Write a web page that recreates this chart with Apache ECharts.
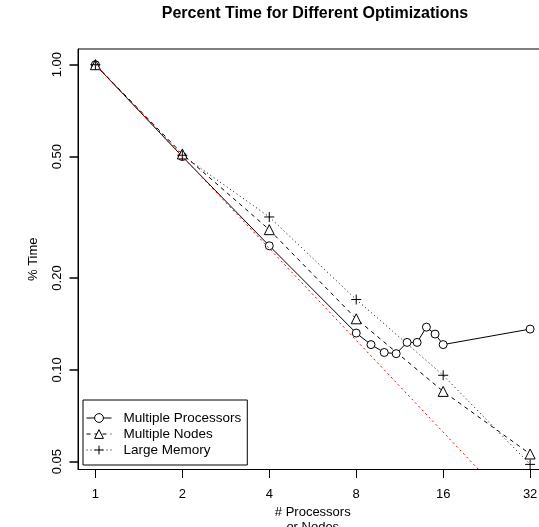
<!DOCTYPE html>
<html>
<head>
<meta charset="utf-8">
<script src="https://cdn.jsdelivr.net/npm/echarts@6/dist/echarts.min.js"></script>
<style>
html,body{margin:0;padding:0;background:#fff;}
#chart{width:539px;height:527px;}
</style>
</head>
<body>
<div id="chart"></div>
<script>
// values (x = processors/nodes, y = fraction of time)
var procN    = [1, 2, 4, 8, 9, 10, 11, 12, 13, 14, 15, 16, 32];
var procTime = [1.00, 0.50, 0.255, 0.132, 0.121, 0.114, 0.113, 0.123, 0.123, 0.138, 0.131, 0.121, 0.136];
var nodeN    = [1, 2, 4, 8, 16, 32];
var nodeTime = [1.00, 0.51, 0.288, 0.147, 0.085, 0.053];
var memN     = [1, 2, 4, 8, 16, 32];
var memTime  = [1.00, 0.505, 0.317, 0.170, 0.096, 0.049];
var idealN    = [1, 32];
var idealTime = [1.00, 0.03125];
var xTicks = [1, 2, 4, 8, 16, 32];
var yTicks = [0.05, 0.10, 0.20, 0.50, 1.00];

// both axes are logarithmic: x in base 2, y in base 10
function pts(xs, ys){
	var out = [];
	for(var i = 0; i < xs.length; i++){
		out.push([Math.log2(xs[i]), Math.log10(ys[i])]);
	}
	return out;
}

var font = 'Liberation Sans, Arial, Helvetica, sans-serif';
var chart = echarts.init(document.getElementById('chart'));
chart.setOption({
	animation : false,
	backgroundColor : '#fff',
	textStyle : { fontFamily : font, color : '#000' },
	title : {
		text : 'Percent Time for Different Optimizations',
		left : 310,
		top : 1,
		textAlign : 'center',
		textStyle : { fontFamily : font, fontSize : 16, fontWeight : 'bold', color : '#000' }
	},
	grid : {
		left : 78, top : 49, width : 469.5, height : 420.5,
		outerBoundsMode : 'none',
		containLabel : false,
		show : true, borderColor : '#000', borderWidth : 1, backgroundColor : 'transparent'
	},
	legend : {
		orient : 'vertical',
		left : 83, top : 400,
		padding : [11, 6, 8, 3],
		itemGap : 2,
		itemWidth : 25,
		itemHeight : 11,
		backgroundColor : '#fff',
		borderColor : '#000',
		borderWidth : 1,
		borderRadius : 0,
		lineStyle : { width : 1 },
		itemStyle : { borderWidth : 1 },
		textStyle : { fontFamily : font, fontSize : 13.5, color : '#000', padding : [0, 0, 0, 7] },
		data : ['Multiple Processors', 'Multiple Nodes', 'Large Memory']
	},
	xAxis : {
		type : 'value',
		min : -0.2, max : 5.2,
		name : '# Processors\nor Nodes',
		nameLocation : 'middle',
		nameGap : 33,
		nameTextStyle : { fontFamily : font, fontSize : 13, color : '#000', lineHeight : 15 },
		axisLine : { show : true, onZero : false, lineStyle : { color : '#000', width : 1 } },
		splitLine : { show : false },
		axisTick : {
			show : true, length : 8.5,
			customValues : xTicks.map(function(v){ return Math.log2(v); }),
			lineStyle : { color : '#000', width : 1 }
		},
		axisLabel : {
			margin : 18, fontSize : 13, color : '#000', fontFamily : font,
			customValues : xTicks.map(function(v){ return Math.log2(v); }),
			formatter : function(v){ return String(Math.round(Math.pow(2, v))); }
		}
	},
	yAxis : {
		type : 'value',
		min : -1.3266, max : 0.0515,
		name : '% Time',
		nameLocation : 'middle',
		nameGap : 38,
		nameTextStyle : { fontFamily : font, fontSize : 13, color : '#000' },
		axisLine : { show : true, onZero : false, lineStyle : { color : '#000', width : 1 } },
		splitLine : { show : false },
		axisTick : {
			show : true, length : 8.5,
			customValues : yTicks.map(function(v){ return Math.log10(v); }),
			lineStyle : { color : '#000', width : 1.5 }
		},
		axisLabel : {
			margin : 14, fontSize : 13, color : '#000', fontFamily : font, rotate : 90,
			customValues : yTicks.map(function(v){ return Math.log10(v); }),
			formatter : function(v){ return Math.pow(10, v).toFixed(2); }
		}
	},
	series : [
		{
			name : 'Multiple Processors',
			type : 'line',
			data : pts(procN, procTime),
			symbol : 'circle',
			symbolSize : 8,
			showAllSymbol : true,
			itemStyle : { color : '#fff', borderColor : '#000', borderWidth : 1 },
			lineStyle : { color : '#000', width : 1, type : 'solid' },
			z : 3
		},
		{
			name : 'Multiple Nodes',
			type : 'line',
			data : pts(nodeN, nodeTime),
			symbol : 'triangle',
			symbolSize : 10,
			showAllSymbol : true,
			itemStyle : { color : '#fff', borderColor : '#000', borderWidth : 1 },
			lineStyle : { color : '#000', width : 1, type : [4, 4] },
			z : 3
		},
		{
			name : 'Large Memory',
			type : 'line',
			data : pts(memN, memTime),
			symbol : 'path://M5,0L5,10M0,5L10,5',
			symbolSize : 10,
			showAllSymbol : true,
			itemStyle : { color : 'none', borderColor : '#000', borderWidth : 1 },
			lineStyle : { color : '#000', width : 1, type : [1, 3] },
			z : 3
		},
		{
			name : 'ideal',
			type : 'line',
			data : pts(idealN, idealTime),
			symbol : 'none',
			clip : true,
			lineStyle : { color : '#ff0000', width : 1, type : [2, 3] },
			z : 4
		}
	]
});
</script>
</body>
</html>
